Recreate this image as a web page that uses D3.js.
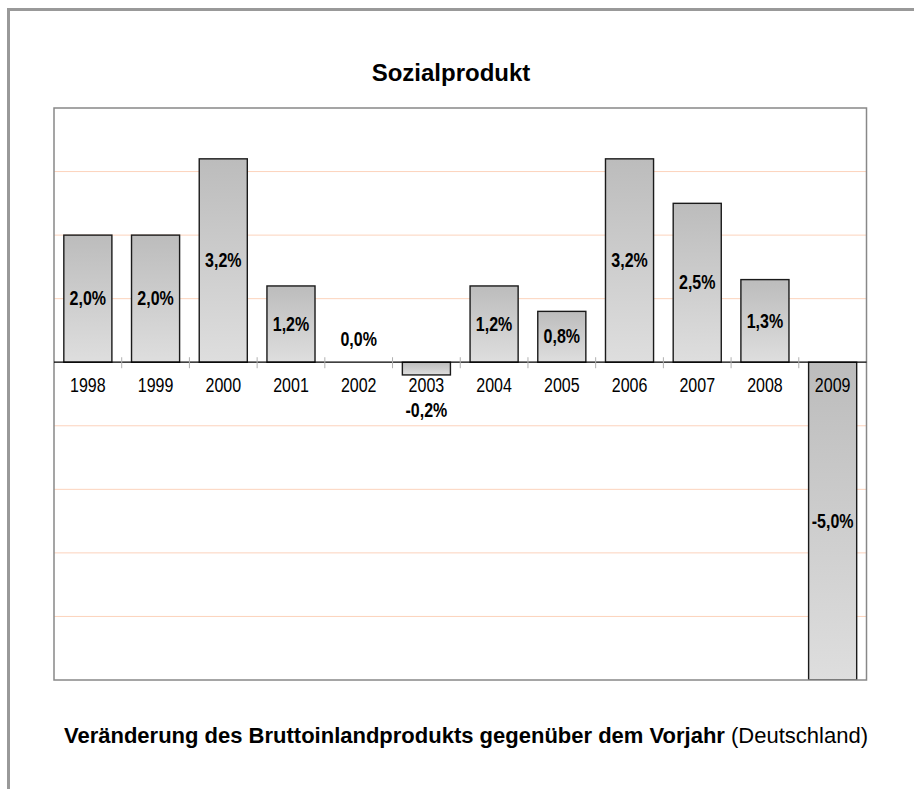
<!DOCTYPE html>
<html lang="de">
<head>
<meta charset="UTF-8">
<title>Sozialprodukt</title>
<script src="https://d3js.org/d3.v7.min.js"></script>
<style>
    body { margin: 0; background: #fff; }
    text { font-family: "Liberation Sans", Arial, sans-serif; fill: #000; }
    .axis path, .axis line { display: none; }
</style>
</head>
<body>
<script>
    // Daten
    const years = ['1998', '1999', '2000', '2001', '2002', '2003', '2004', '2005', '2006', '2007', '2008', '2009'];
    const growth = [2.0, 2.0, 3.2, 1.2, 0.0, -0.2, 1.2, 0.8, 3.2, 2.5, 1.3, -5.0];
    const gridValues = [-4, -3, -2, -1, 1, 2, 3];
    const yDomain = [-5, 4];

    const W = 914, H = 789;
    const plot = {left: 54, top: 108, right: 866.5, bottom: 680};
    const narrow = 'scale(0.8,1)';   // Schrift wirkt im Original schmal

    const svg = d3.select('body').append('svg').attr('width', W).attr('height', H);

    // äußerer Rahmen (rechts/unten abgeschnitten)
    svg.append('rect')
        .attr('x', 8.5).attr('y', 9.5).attr('width', 930).attr('height', 820)
        .attr('fill', 'none').attr('stroke', '#999').attr('stroke-width', 3);

    const x = d3.scaleBand().domain(years).range([plot.left, plot.right])
        .paddingInner(0.29).paddingOuter(0.145);
    const y = d3.scaleLinear().domain(yDomain).range([plot.bottom, plot.top]);
    const y0 = y(0);

    const fmt = d3.formatLocale({decimal: ',', thousands: '.', grouping: [3], currency: ['', '€'], minus: '-'}).format('.1f');

    // Verlauf für die Säulen
    const defs = svg.append('defs');
    const grad = defs.append('linearGradient')
        .attr('id', 'barGrad').attr('x1', 0).attr('y1', 0).attr('x2', 0).attr('y2', 1);
    grad.append('stop').attr('offset', '0%').attr('stop-color', '#bcbcbc');
    grad.append('stop').attr('offset', '100%').attr('stop-color', '#dedede');

    defs.append('clipPath').attr('id', 'plotClip')
        .append('rect').attr('x', plot.left).attr('y', plot.top)
        .attr('width', plot.right - plot.left).attr('height', plot.bottom - plot.top);

    // Gitternetzlinien
    svg.append('g').selectAll('line').data(gridValues).enter().append('line')
        .attr('x1', plot.left).attr('x2', plot.right)
        .attr('y1', d => y(d)).attr('y2', d => y(d))
        .attr('stroke', '#fcd3bc').attr('stroke-width', 1);

    // Säulen
    svg.append('g').attr('clip-path', 'url(#plotClip)')
        .selectAll('rect').data(growth).enter().append('rect')
        .attr('x', (d, i) => x(years[i]))
        .attr('y', d => Math.min(y(d), y0))
        .attr('width', x.bandwidth())
        .attr('height', d => Math.abs(y(d) - y0))
        .attr('fill', 'url(#barGrad)')
        .attr('stroke', '#1a1a1a').attr('stroke-width', 1.4);

    // Plotbereich-Rahmen
    svg.append('rect')
        .attr('x', plot.left).attr('y', plot.top)
        .attr('width', plot.right - plot.left).attr('height', plot.bottom - plot.top)
        .attr('fill', 'none').attr('stroke', '#888').attr('stroke-width', 1.5);

    // Nulllinie
    svg.append('line')
        .attr('x1', plot.left).attr('x2', plot.right).attr('y1', y0).attr('y2', y0)
        .attr('stroke', '#000').attr('stroke-width', 1.3);

    // Teilstriche zwischen den Kategorien
    const gap = x.step() - x.bandwidth();
    svg.append('g').selectAll('line').data(years.slice(0, -1)).enter().append('line')
        .attr('x1', d => x(d) + x.bandwidth() + gap / 2)
        .attr('x2', d => x(d) + x.bandwidth() + gap / 2)
        .attr('y1', y0 - 5).attr('y2', y0 + 6)
        .attr('stroke', '#b0b0b0').attr('stroke-width', 1);

    // Kategorienachse
    const axis = d3.axisBottom(x).tickSize(0).tickPadding(16);
    svg.append('g').attr('class', 'axis')
        .attr('transform', 'translate(0,' + y0 + ')')
        .call(axis)
        .selectAll('text')
        .attr('transform', narrow)
        .style('font-size', '20px');

    // Datenbeschriftungen
    svg.append('g').selectAll('text').data(growth).enter().append('text')
        .attr('transform', (d, i) => {
            const cx = x(years[i]) + x.bandwidth() / 2;
            const yv = y(Math.max(d, yDomain[0]));
            let cy = (yv + y0) / 2;
            if (Math.abs(yv - y0) < 30) cy = d < 0 ? y0 + 48 : y0 - 23;
            return 'translate(' + cx + ',' + cy + ') ' + narrow;
        })
        .attr('text-anchor', 'middle')
        .attr('dominant-baseline', 'central')
        .style('font-size', '20px').style('font-weight', 'bold')
        .text(d => fmt(d) + '%');

    // Titel
    svg.append('text')
        .attr('x', 451).attr('y', 81)
        .attr('text-anchor', 'middle')
        .style('font-size', '24px').style('font-weight', 'bold')
        .text('Sozialprodukt');

    // Fußzeile
    const foot = svg.append('text')
        .attr('x', 466).attr('y', 743)
        .attr('text-anchor', 'middle')
        .style('font-size', '22px');
    foot.append('tspan').style('font-weight', 'bold')
        .text('Veränderung des Bruttoinlandprodukts gegenüber dem Vorjahr');
    foot.append('tspan').text(' (Deutschland)');
</script>
</body>
</html>
